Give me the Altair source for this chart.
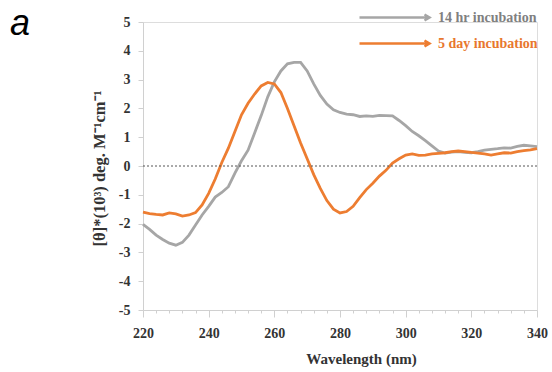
import altair as alt
import pandas as pd

wavelength = [220, 222, 224, 226, 228, 230, 232, 234, 236, 238, 240, 242, 244, 246, 248, 250,
              252, 254, 256, 258, 260, 262, 264, 266, 268, 270, 272, 274, 276, 278, 280, 282,
              284, 286, 288, 290, 292, 294, 296, 298, 300, 302, 304, 306, 308, 310, 312, 314,
              316, 318, 320, 322, 324, 326, 328, 330, 332, 334, 336, 338, 340]

hr14 = [-2.03, -2.2, -2.4, -2.55, -2.68, -2.75, -2.65, -2.4, -2.05, -1.7, -1.4, -1.08, -0.92, -0.72,
        -0.25, 0.18, 0.55, 1.15, 1.75, 2.4, 2.92, 3.3, 3.55, 3.6, 3.6, 3.3, 2.85, 2.45, 2.15, 1.95,
        1.86, 1.8, 1.78, 1.72, 1.74, 1.72, 1.76, 1.75, 1.74, 1.58, 1.4, 1.2, 1.05, 0.88, 0.7, 0.52,
        0.45, 0.48, 0.5, 0.47, 0.46, 0.5, 0.55, 0.58, 0.6, 0.63, 0.62, 0.68, 0.72, 0.7, 0.67]

day5 = [-1.6, -1.65, -1.68, -1.7, -1.63, -1.66, -1.74, -1.7, -1.62, -1.35, -0.95, -0.45, 0.12, 0.62,
        1.2, 1.78, 2.18, 2.5, 2.78, 2.9, 2.85, 2.55, 2.0, 1.4, 0.8, 0.25, -0.3, -0.78, -1.2, -1.5,
        -1.63, -1.58, -1.4, -1.1, -0.82, -0.6, -0.35, -0.15, 0.1, 0.25, 0.38, 0.42, 0.37, 0.38,
        0.42, 0.44, 0.46, 0.5, 0.52, 0.5, 0.47, 0.45, 0.42, 0.38, 0.42, 0.46, 0.45, 0.5, 0.53,
        0.56, 0.6]

series_names = ["14 hr incubation", "5 day incubation"]
series_colors = ["#A6A6A6", "#ED7D31"]
label_colors = ["#808080", "#E8772E"]

x_ticks = [220, 224, 228, 232, 236, 240, 244, 248, 252, 256, 260, 264, 268, 272, 276, 280,
           284, 288, 292, 296, 300, 304, 308, 312, 316, 320, 324, 328, 332, 336, 340]
y_ticks = [-5, -4, -3, -2, -1, 0, 1, 2, 3, 4, 5]
zero_line = [0]

FONT = "Liberation Serif"

df = pd.concat([
    pd.DataFrame({"wavelength": wavelength, "theta": hr14, "series": series_names[0]}),
    pd.DataFrame({"wavelength": wavelength, "theta": day5, "series": series_names[1]}),
])
zero_df = pd.DataFrame({"theta": zero_line})

x_axis = alt.Axis(
    values=x_ticks,
    labelExpr="datum.value % 20 == 0 ? datum.label : ''",
    tickSize={"condition": {"test": "datum.value % 20 == 0", "value": 7}, "value": 3},
    tickColor="#d0d0d0", domainColor="#d0d0d0",
    labelFont=FONT, labelFontSize=14, labelFontWeight="bold", labelColor="#333333",
    labelPadding=9, labelFlush=False, labelOverlap=False,
    title="Wavelength (nm)", titleFont=FONT, titleFontSize=15, titleFontWeight="bold",
    titleColor="#333333", titleX=218, titleY=48, titleAlign="center", titleBaseline="middle",
    grid=False,
)

y_axis = alt.Axis(
    values=y_ticks,
    labelExpr="replace(datum.label, '\u2212', '-')",
    tickSize=5, tickColor="#d0d0d0", domainColor="#d0d0d0",
    labelFont=FONT, labelFontSize=14, labelFontWeight="bold", labelColor="#333333",
    labelPadding=8, labelFlush=False, labelOverlap=False, labelBound=False,
    title="[θ]*(10³) deg. M⁻¹cm⁻¹", titleFont=FONT, titleFontSize=16.5, titleFontWeight="bold",
    titleColor="#333333", titleAngle=-90, titleX=-44, titleY=146, titleAlign="center",
    titleBaseline="middle",
    grid=False,
)

y_scale = alt.Scale(domain=[-5, 5], nice=False)

label_color_expr = "datum.label == '%s' ? '%s' : '%s'" % (series_names[1], label_colors[1], label_colors[0])

legend = alt.Legend(
    title=None, orient="none", legendX=267, legendY=-16,
    symbolType="M-6.2,0L0.8,0M0.3,-0.3L0.8,0L0.3,0.3",
    symbolSize=400, symbolStrokeWidth=2.5, symbolFillColor="transparent",
    labelFont=FONT, labelFontSize=14, labelFontWeight="bold",
    labelColor=alt.ExprRef(label_color_expr),
    labelOffset=5, rowPadding=6, padding=0,
)

lines = alt.Chart(df).mark_line(strokeWidth=2.8).encode(
    x=alt.X("wavelength:Q", scale=alt.Scale(domain=[220, 340], nice=False, zero=False), axis=x_axis),
    y=alt.Y("theta:Q", scale=y_scale, axis=y_axis),
    color=alt.Color("series:N", scale=alt.Scale(domain=series_names, range=series_colors), legend=legend),
)

zero = alt.Chart(zero_df).mark_rule(color="#555555", strokeDash=[2, 2], strokeWidth=1).encode(
    y=alt.Y("theta:Q", scale=y_scale, axis=y_axis)
)

chart = alt.layer(lines, zero).properties(
    width=394, height=288,
    autosize=alt.AutoSizeParams(type="none"),
    padding={"left": 143, "top": 22, "right": 15, "bottom": 62},
    title=alt.TitleParams("a", anchor="start", frame="group", dx=-133, dy=69, baseline="alphabetic",
                          font="Liberation Sans", fontStyle="italic", fontWeight="normal",
                          fontSize=36, color="black"),
).configure_view(stroke=None).configure_axis(labelOverlap=False).configure(background="white")

chart.save("out.html", embed_options={"renderer": "svg", "actions": False})
